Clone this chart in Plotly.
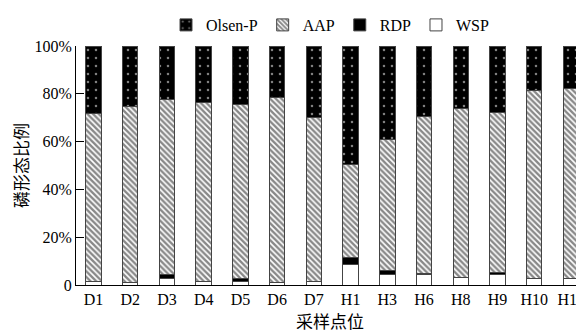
import plotly.graph_objects as go

categories = ["D1", "D2", "D3", "D4", "D5", "D6", "D7", "H1", "H3", "H6", "H8", "H9", "H10", "H11"]
# segment heights (percent)
wsp = [1.5, 1.2, 2.6, 1.5, 1.3, 1.2, 1.6, 8.6, 4.2, 4.5, 3.3, 4.4, 2.6, 2.8]
rdp = [0.0, 0.0, 1.7, 0.0, 1.5, 0.0, 0.0, 2.8, 1.8, 0.3, 0.0, 1.0, 0.0, 0.0]
aap = [70.2, 73.4, 73.3, 74.7, 72.6, 77.2, 68.3, 38.9, 54.9, 65.8, 70.5, 66.8, 78.8, 79.3]
olsen = [28.3, 25.4, 22.4, 23.8, 24.6, 21.6, 30.1, 49.7, 39.1, 29.4, 26.2, 27.8, 18.6, 17.9]
ytick_vals = [0, 20, 40, 60, 80, 100]
ytick_text = ["0", "20%", "40%", "60%", "80%", "100%"]

serif = "Liberation Serif"
cjk = "Noto Sans CJK SC"
line = dict(color="#444444", width=1)

fig = go.Figure()
fig.add_bar(x=categories, y=wsp, name="WSP",
            marker=dict(color="white", line=line))
fig.add_bar(x=categories, y=rdp, name="RDP",
            marker=dict(color="black", line=line))
fig.add_bar(x=categories, y=aap, name="AAP",
            marker=dict(color="white", line=line,
                        pattern=dict(shape="\\", fgcolor="#111111", bgcolor="white",
                                     size=4, solidity=0.6)))
fig.add_bar(x=categories, y=olsen, name="Olsen-P",
            marker=dict(color="black", line=line,
                        pattern=dict(shape=".", fgcolor="white", bgcolor="black",
                                     size=8, solidity=0.08)))

# page body has an 8px margin, so the figure is sized/offset to compensate
fig.update_layout(
    width=576, height=327,
    barmode="stack", bargap=0.58,
    paper_bgcolor="white", plot_bgcolor="white",
    margin=dict(l=68, r=0, t=31, b=49.5),
    font=dict(family=serif, size=16, color="black"),
    showlegend=True,
    legend=dict(orientation="h", traceorder="reversed",
                x=0.5, xanchor="center", y=1.089, yanchor="middle",
                font=dict(family=serif, size=16), bgcolor="rgba(0,0,0,0)"),
    xaxis=dict(range=[-0.476, 13.354], showline=True, linecolor="black", linewidth=1,
               ticks="", showgrid=False, tickfont=dict(family=serif, size=16),
               title=dict(text="采样点位", font=dict(family=cjk, size=17), standoff=0)),
    yaxis=dict(range=[0, 100], tickvals=ytick_vals, ticktext=ytick_text,
               showline=True, linecolor="black", linewidth=1,
               ticks="inside", ticklen=8, tickcolor="black",
               showgrid=False, zeroline=False, tickfont=dict(family=serif, size=16),
               title=dict(text="磷形态比例", font=dict(family=cjk, size=17), standoff=4)),
)

fig.write_html("out.html")
